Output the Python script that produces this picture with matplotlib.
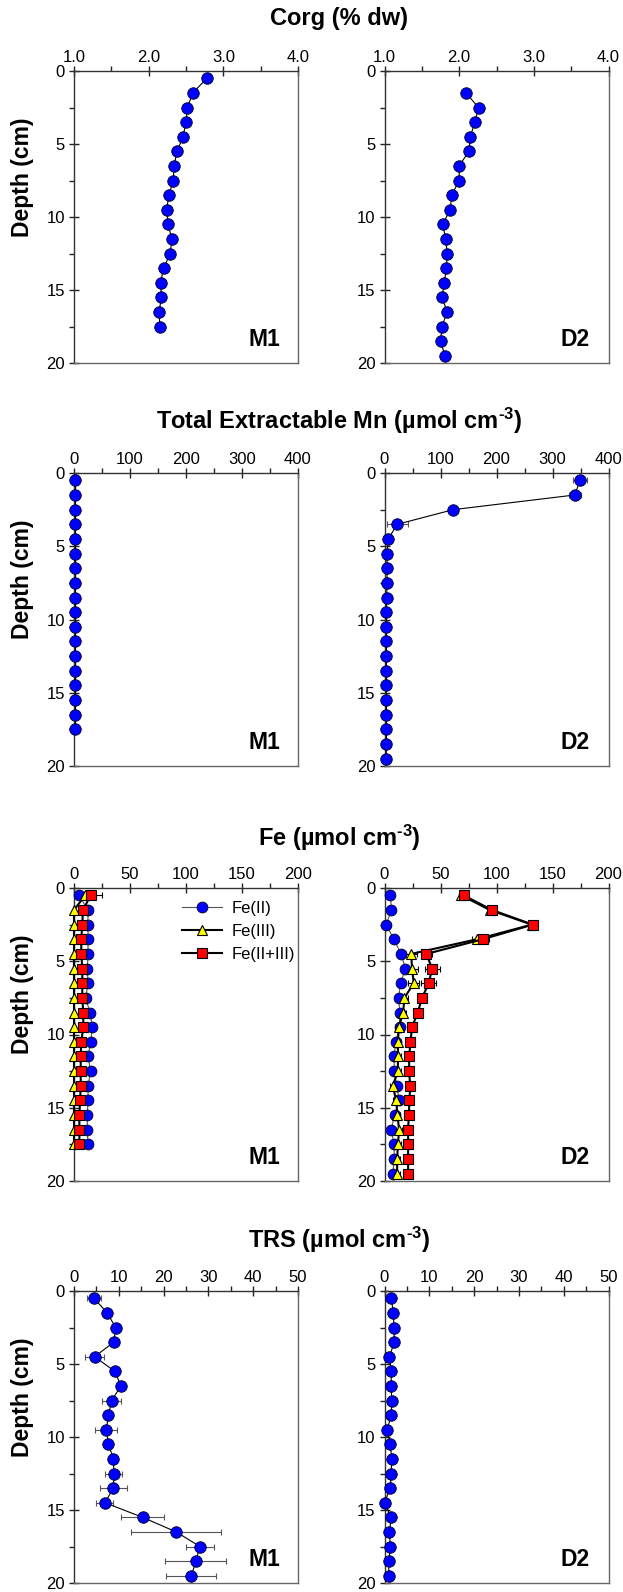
import matplotlib
matplotlib.use('Agg')
import matplotlib.pyplot as plt
from matplotlib.ticker import MultipleLocator, FormatStrFormatter

plt.rcParams['font.family'] = ['Liberation Sans', 'DejaVu Sans']
plt.rcParams['mathtext.fontset'] = 'custom'
plt.rcParams['mathtext.rm'] = 'Liberation Sans'
plt.rcParams['mathtext.it'] = 'Liberation Sans:italic'
plt.rcParams['mathtext.bf'] = 'Liberation Sans:bold'

# ---------------- data ----------------
depth_m1 = [0.5, 1.5, 2.5, 3.5, 4.5, 5.5, 6.5, 7.5, 8.5, 9.5, 10.5, 11.5,
            12.5, 13.5, 14.5, 15.5, 16.5, 17.5]
depth_d2 = [0.5, 1.5, 2.5, 3.5, 4.5, 5.5, 6.5, 7.5, 8.5, 9.5, 10.5, 11.5,
            12.5, 13.5, 14.5, 15.5, 16.5, 17.5, 18.5, 19.5]
depth_corg_d2 = depth_d2[1:]
depth_trs_m1 = depth_d2

corg_m1 = [2.78, 2.59, 2.52, 2.50, 2.46, 2.38, 2.34, 2.33, 2.27, 2.24, 2.26,
           2.31, 2.29, 2.20, 2.16, 2.17, 2.14, 2.15]
corg_d2 = [2.09, 2.26, 2.21, 2.15, 2.13, 2.00, 2.00, 1.90, 1.88, 1.78, 1.82,
           1.84, 1.83, 1.80, 1.77, 1.84, 1.77, 1.75, 1.81]

mn_m1 = [1.2, 1.2, 1.2, 1.2, 1.2, 1.2, 1.2, 1.2, 1.2, 1.2, 1.2, 1.2, 1.2,
         1.2, 1.2, 1.2, 1.2, 1.2]
mn_d2 = [349, 340, 123, 23, 6.5, 4.5, 4.5, 4.5, 4.0, 3.5, 3.5, 3.5, 3.5,
         3.5, 3.5, 3.5, 3.5, 3.5, 3.5, 3.0]
mn_d2_err = [12, 11, 0, 19, 0, 0, 0, 0, 0, 0, 0, 0, 0, 0, 0, 0, 0, 0, 0, 0]

fe2_m1 = [4.5, 12.5, 12.5, 12.5, 12.5, 11.9, 12.5, 10.4, 14.3, 16.4, 14.9,
          12.5, 14.9, 12.5, 12.5, 11.9, 11.9, 12.5]
fe3_m1 = [10, 0, 0, 0, 0, 0, 0, 0, 0, 0, 0, 0, 0, 0, 0, 0, 0, 0]
fe23_m1 = [14.9, 8.0, 7.4, 6.5, 6.5, 7.4, 7.4, 7.4, 8.3, 8.3, 6.5, 6.0, 6.0,
           6.0, 5.4, 4.8, 4.8, 4.8]
fe23_m1_err = [10, 0, 0, 0, 0, 0, 0, 0, 0, 0, 0, 0, 0, 0, 0, 0, 0, 0]

fe2_d2 = [5.3, 6.2, 1.5, 8.3, 14.8, 18.7, 14.3, 12.5, 13.7, 13.4, 10.0, 8.6,
          8.6, 11.0, 13.0, 9.0, 6.0, 8.6, 8.6, 7.4]
fe3_d2 = [68.6, 94, 131.5, 82.5, 23.8, 24.6, 26.1, 17.8, 16.6, 12.8, 12.0,
          12.0, 12.0, 7.4, 10.4, 11.6, 13.0, 12.0, 11.3, 11.3]
fe3_d2_err = [2, 2, 2, 4, 5, 5, 5, 3, 3, 3, 2.5, 2.5, 2.5, 2.5, 2.5, 2.5,
              2.5, 2.5, 2.5, 2.5]
fe23_d2 = [70.7, 96, 132.4, 87.6, 37.4, 42.5, 39.5, 33.5, 29.7, 24.6, 23.2,
           22.0, 22.0, 22.9, 22.3, 21.7, 21.1, 21.1, 21.1, 21.1]
fe23_d2_err = [2, 2, 2, 5.6, 5, 6.7, 6.7, 4, 3, 3, 2.5, 2.5, 2.5, 2.5, 2.5,
               2.5, 2.5, 2.5, 2.5, 2.5]

trs_m1 = [4.5, 7.4, 9.3, 8.9, 4.6, 9.1, 10.5, 8.4, 7.7, 7.2, 7.7, 8.8, 8.9,
          8.8, 6.9, 15.3, 22.8, 28.1, 27.2, 26.2]
trs_m1_err = [1.6, 0.8, 0.8, 0.8, 2.1, 0.6, 0.6, 2.1, 0.6, 2.5, 0.6, 0.7, 1.9,
              3.0, 1.9, 4.9, 10.1, 3.2, 6.8, 5.6]
trs_d2 = [1.5, 2.0, 2.1, 2.2, 1.1, 1.5, 1.5, 1.6, 1.5, 0.6, 1.3, 1.6, 1.5,
          1.3, 0.0, 1.5, 1.1, 1.3, 1.0, 0.9]

SUP = '$^{\\mathbf{\u2010}\\mathbf{3}}$'
titles = ['Corg (% dw)',
          'Total Extractable Mn (µmol cm' + SUP + ')',
          'Fe (µmol cm' + SUP + ')',
          'TRS (µmol cm' + SUP + ')']
site_labels = ['M1', 'D2']
fe_labels = ['Fe(II)', 'Fe(III)', 'Fe(II+III)']

# ---------------- layout ----------------
W, H = 623, 1592
fig = plt.figure(figsize=(W / 100, H / 100), dpi=100)
fig.patch.set_facecolor('white')

ax_left = [74, 384.5]
ax_w = 224
rows = [(71, 363), (473, 766), (888, 1181), (1291, 1583)]
title_y = [19, 421, 838, 1240]

xcfg = [((1.0, 4.0), 1.0, 0.5, '%.1f'),
        ((0, 400), 100, 50, '%d'),
        ((0, 200), 50, 25, '%d'),
        ((0, 50), 10, 5, '%d')]

BLUE = '#0000ff'


def style(ax, cfg, site):
    xlim, maj, mnr, fmt = cfg
    ax.set_xlim(*xlim)
    ax.set_ylim(20, 0)
    ax.xaxis.set_major_locator(MultipleLocator(maj))
    ax.xaxis.set_minor_locator(MultipleLocator(mnr))
    ax.xaxis.set_major_formatter(FormatStrFormatter(fmt))
    ax.yaxis.set_major_locator(MultipleLocator(5))
    ax.yaxis.set_minor_locator(MultipleLocator(2.5))
    ax.tick_params(axis='x', which='both', top=True, bottom=False,
                   labeltop=True, labelbottom=False)
    ax.tick_params(axis='y', which='both', left=True, right=False)
    ax.tick_params(which='major', direction='inout', length=7, width=1,
                   color='#222222', labelsize=12)
    ax.tick_params(which='minor', direction='out', length=3.5, width=1,
                   color='#222222')
    ax.tick_params(axis='x', which='major', pad=1)
    ax.tick_params(axis='y', which='major', pad=3)
    for s in ['top', 'left']:
        ax.spines[s].set_color('#333333')
        ax.spines[s].set_linewidth(1)
    for s in ['right', 'bottom']:
        ax.spines[s].set_color('#666666')
        ax.spines[s].set_linewidth(1)
    ax.text(0.85, 0.08, site, transform=ax.transAxes, fontsize=16.5,
            fontweight='bold', ha='center', va='center')


axes = []
for r, (top, bot) in enumerate(rows):
    row_axes = []
    for c in range(2):
        ax = fig.add_axes([ax_left[c] / W, 1 - bot / H, ax_w / W,
                           (bot - top) / H])
        style(ax, xcfg[r], site_labels[c])
        row_axes.append(ax)
    axes.append(row_axes)
    fig.text(339 / W, 1 - title_y[r] / H, titles[r], fontsize=17,
             fontweight='bold', ha='center', va='center')
    fig.text(22 / W, 1 - ((top + bot) / 2 - 40) / H, 'Depth (cm)',
             fontsize=16.5, fontweight='bold', ha='center', va='center',
             rotation=90)

circ = dict(marker='o', ms=8.3, mfc=BLUE, mec='#000022', mew=0.6,
            color='black', lw=0.8, clip_on=False, zorder=4)
ebar = dict(fmt='none', ecolor='#555555', elinewidth=0.8, capsize=2.5,
            capthick=0.8, zorder=3, clip_on=False)

# Corg
axes[0][0].plot(corg_m1, depth_m1, **circ)
axes[0][1].plot(corg_d2, depth_corg_d2, **circ)

# Mn
axes[1][0].plot(mn_m1, depth_m1, **circ)
axes[1][1].errorbar(mn_d2, depth_d2, xerr=mn_d2_err, **ebar)
axes[1][1].plot(mn_d2, depth_d2, **circ)

# Fe
fe_circ = dict(circ, ms=7.8, color='#555555', lw=0.8)
fe_tri = dict(marker='^', ms=7.8, mfc='#ffff00', mec='black', mew=0.8,
              color='black', lw=1.5, clip_on=False, zorder=5)
fe_sq = dict(marker='s', ms=7, mfc='#ff0000', mec='black', mew=0.8,
             color='black', lw=1.5, clip_on=False, zorder=6)
fe_ebar = dict(fmt='none', ecolor='black', elinewidth=0.8, capsize=2.5,
               capthick=0.8, zorder=2, clip_on=False)

a = axes[2][0]
a.errorbar(fe23_m1, depth_m1, xerr=fe23_m1_err, **fe_ebar)
h1, = a.plot(fe2_m1, depth_m1, label=fe_labels[0], **fe_circ)
h2, = a.plot(fe3_m1, depth_m1, label=fe_labels[1], **fe_tri)
h3, = a.plot(fe23_m1, depth_m1, label=fe_labels[2], **fe_sq)
a.legend(handles=[h1, h2, h3], loc='upper left', bbox_to_anchor=(0.48, 0.955),
         frameon=False, fontsize=12, handlelength=2.4, handletextpad=0.6,
         labelspacing=0.48, borderaxespad=0, borderpad=0)

a = axes[2][1]
a.errorbar(fe3_d2, depth_d2, xerr=fe3_d2_err, **fe_ebar)
a.errorbar(fe23_d2, depth_d2, xerr=fe23_d2_err, **fe_ebar)
a.plot(fe2_d2, depth_d2, **fe_circ)
a.plot(fe3_d2, depth_d2, **fe_tri)
a.plot(fe23_d2, depth_d2, **fe_sq)

# TRS
axes[3][0].errorbar(trs_m1, depth_trs_m1, xerr=trs_m1_err, **ebar)
axes[3][0].plot(trs_m1, depth_trs_m1, **circ)
axes[3][1].plot(trs_d2, depth_d2, **circ)

fig.savefig('out.png', dpi=100, facecolor='white')
